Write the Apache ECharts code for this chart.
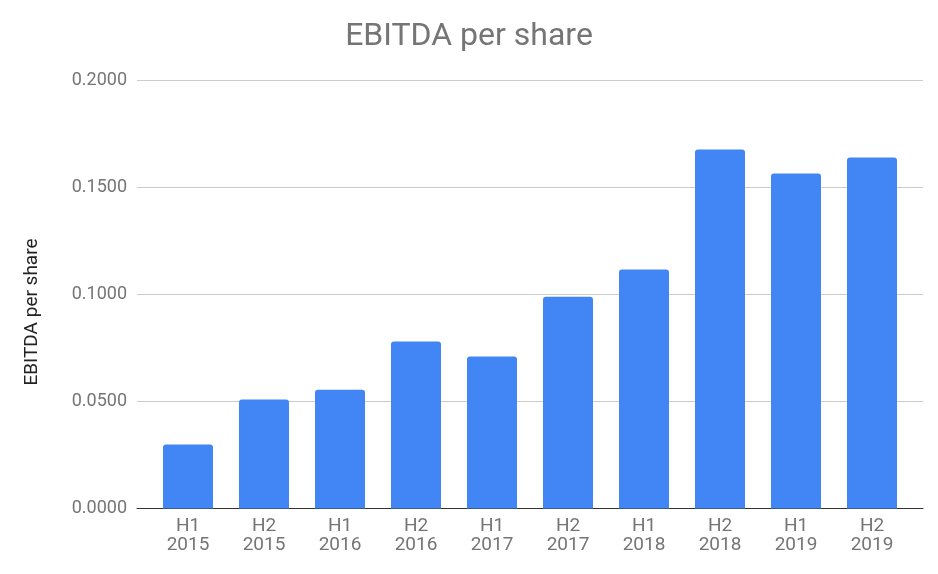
<!DOCTYPE html>
<html><head><meta charset="utf-8">
<script src="https://cdn.jsdelivr.net/npm/echarts@6/dist/echarts.min.js"></script>
<style>html,body{margin:0;padding:0;background:#fff}#c{width:938px;height:574px}</style>
</head><body><div id="c"></div>
<script>
const categories = ["H1\n2015","H2\n2015","H1\n2016","H2\n2016","H1\n2017","H2\n2017","H1\n2018","H2\n2018","H1\n2019","H2\n2019"];
const ebitdaPerShare = [0.0299,0.0509,0.0555,0.0780,0.0710,0.0989,0.1117,0.1678,0.1565,0.1640];
const yTicks = {min:0, max:0.2, interval:0.05};
const titleText = "EBITDA per share";
const yAxisName = "EBITDA per share";

const chart = echarts.init(document.getElementById('c'), null, {renderer:'canvas'});
const font = 'Roboto, "Noto Sans", sans-serif';
chart.setOption({
  animation:false,
  title:{text:titleText,left:'center',top:16,textStyle:{fontFamily:font,fontSize:32,fontWeight:'normal',color:'#757575'}},
  grid:[
    {left:137,right:15,top:80.5,bottom:574-508.5},
    {left:150,right:28,top:80.5,bottom:574-508.5}
  ],
  graphic:[{type:'text',x:32,y:312,rotation:Math.PI/2,
    style:{text:yAxisName,font:'19px Roboto, "Noto Sans", sans-serif',fill:'#222',align:'center',verticalAlign:'middle'}}],
  xAxis:[
    {gridIndex:0,type:'value',min:0,max:1,axisLabel:{show:false},axisTick:{show:false},splitLine:{show:false},
     axisLine:{show:true,lineStyle:{color:'#333',width:1}}},
    {gridIndex:1,type:'category',data:categories,axisTick:{show:false},axisLine:{show:false},
     axisLabel:{margin:8,fontFamily:font,fontSize:19,lineHeight:19,color:'#757575'}}
  ],
  yAxis:[
    {gridIndex:0,type:'value',min:yTicks.min,max:yTicks.max,interval:yTicks.interval,
     axisLabel:{formatter:v=>v.toFixed(4),margin:10,fontFamily:font,fontSize:18,color:'#757575'},
     axisLine:{show:false},axisTick:{show:false},
     splitLine:{lineStyle:{color:'#cccccc',width:1}}},
    {gridIndex:1,type:'value',min:yTicks.min,max:yTicks.max,interval:yTicks.interval,show:false}
  ],
  series:[{type:'bar',xAxisIndex:1,yAxisIndex:1,data:ebitdaPerShare,barWidth:50,
    itemStyle:{color:'#4285F4',borderRadius:[3,3,0,0]}}]
});
</script></body></html>
